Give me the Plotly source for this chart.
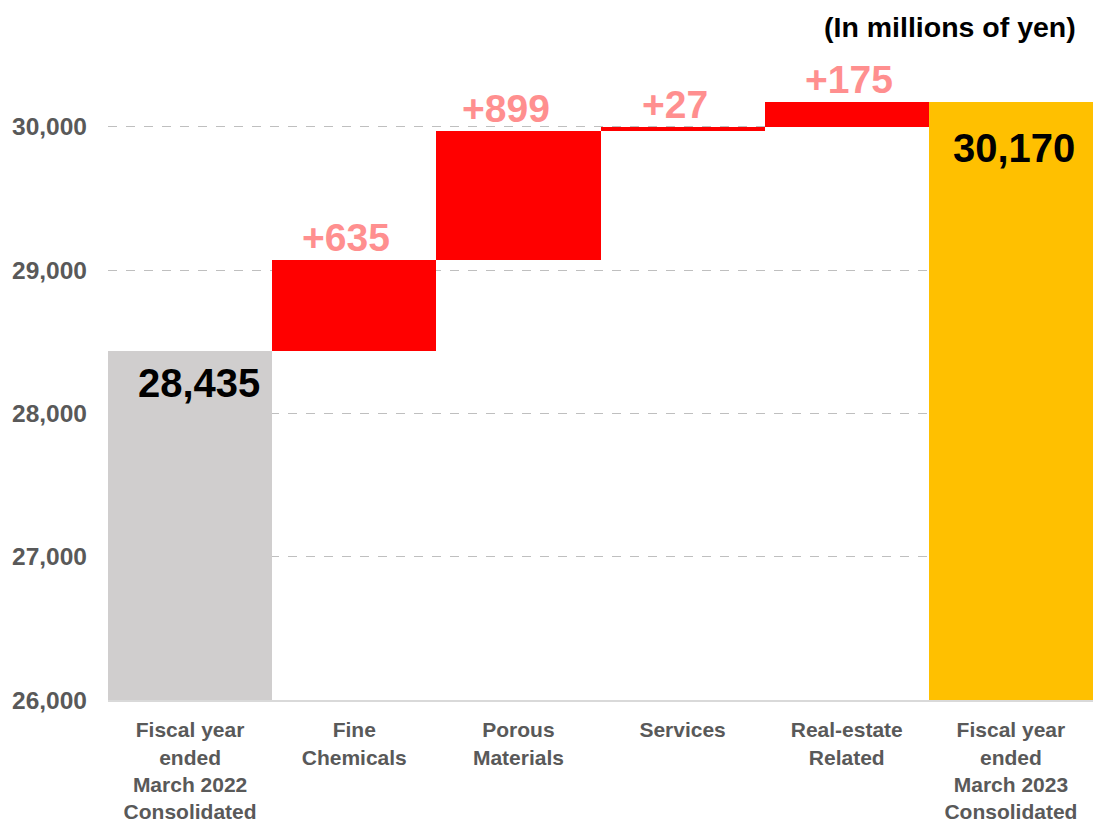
import plotly.graph_objects as go

# Net sales bridge: FY2022 -> segment changes -> FY2023 (millions of yen)
categories = [
    "Fiscal year<br>ended<br>March 2022<br>Consolidated",
    "Fine<br>Chemicals",
    "Porous<br>Materials",
    "Services",
    "Real-estate<br>Related",
    "Fiscal year<br>ended<br>March 2023<br>Consolidated",
]
start_total = 28435
segment_changes = [635, 899, 27, 175]
end_total = 30170
change_labels = ["+635", "+899", "+27", "+175"]
total_labels = ["28,435", "30,170"]

axis_min = 26000
y_ticks = [26000, 27000, 28000, 29000, 30000]
y_tick_text = ["26,000", "27,000", "28,000", "29,000", "30,000"]

# floating bars for the segment changes
bases = []
running = start_total
for c in segment_changes:
    bases.append(running)
    running += c

font_family = "Liberation Sans, Arial, sans-serif"
grey_text = "#595959"

fig = go.Figure()

# totals drawn from the axis floor
fig.add_trace(go.Bar(
    x=[categories[0], categories[-1]],
    y=[start_total - axis_min, end_total - axis_min],
    base=[axis_min, axis_min],
    marker=dict(color=["#D0CECE", "#FFC000"], line=dict(width=0)),
    hoverinfo="skip",
))

fig.add_trace(go.Bar(
    x=categories[1:5],
    y=segment_changes,
    base=bases,
    marker=dict(color="#FF0000", line=dict(width=0)),
    hoverinfo="skip",
))

annotations = []
label_xshift = [-8, -12, -8, 2]
for cat, b, c, lab, dx in zip(categories[1:5], bases, segment_changes, change_labels, label_xshift):
    annotations.append(dict(
        x=cat, y=b + c, text=lab, showarrow=False, xanchor="center", yanchor="bottom",
        xshift=dx, yshift=-1,
        font=dict(family=font_family, size=39, color="#FF8F8F", weight="bold"),
    ))

total_shift = [(72, -8), (66, -22)]
for cat, val, lab, (dx, dy) in zip([categories[0], categories[-1]], [start_total, end_total],
                                   total_labels, total_shift):
    annotations.append(dict(
        x=cat, y=val, text=lab, showarrow=False, xanchor="right", yanchor="top",
        xshift=dx, yshift=dy,
        font=dict(family=font_family, size=40, color="#000000", weight="bold"),
    ))

annotations.append(dict(
    xref="paper", yref="paper", x=0.985, y=1.0, yshift=10,
    text="(In millions of yen)", showarrow=False, xanchor="right", yanchor="bottom",
    font=dict(family=font_family, size=28.5, color="#000000", weight="bold"),
))

fig.update_layout(
    width=1093, height=825,
    margin=dict(l=108, r=0, t=55, b=125),
    plot_bgcolor="white", paper_bgcolor="white",
    showlegend=False,
    barmode="overlay",
    bargap=0,
    annotations=annotations,
    xaxis=dict(
        categoryorder="array", categoryarray=categories,
        automargin=False,
        showgrid=False, zeroline=False,
        showline=True, linecolor="#D9D9D9", linewidth=2,
        ticks="", ticklabelstandoff=10,
        tickfont=dict(family=font_family, size=21, color=grey_text, weight="bold"),
    ),
    yaxis=dict(
        range=[axis_min, 30500],
        automargin=False,
        tickvals=y_ticks, ticktext=y_tick_text,
        showgrid=True, gridcolor="#BFBFBF", griddash="dash", gridwidth=1,
        zeroline=False, showline=False, ticks="",
        ticklabelstandoff=20,
        tickfont=dict(family=font_family, size=24.5, color=grey_text, weight="bold"),
    ),
)

fig.write_html("out.html")
